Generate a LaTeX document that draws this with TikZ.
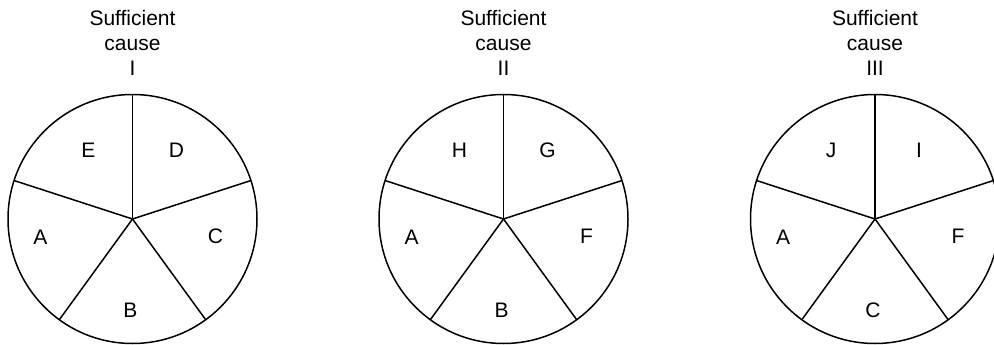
\documentclass[tikz,border=0pt]{standalone}
\usepackage{fontspec}
\setmainfont{Liberation Sans}
\usetikzlibrary{calc}
\begin{document}
\begin{tikzpicture}[x=1pt,y=-1pt,
  rim/.style={draw=black,line width=1.5pt},
  spoke/.style={draw=black,line width=1.5pt},
  lbl/.style={inner sep=0pt,font=\fontsize{21}{25}\selectfont},
  ttl/.style={inner sep=0pt,anchor=base,font=\fontsize{21}{25}\selectfont}]
\clip (0,0) rectangle (994,345);
\fill[white] (0,0) rectangle (994,345);
\foreach \cx/\num/\e/\d/\a/\c/\b [count=\k] in
  {132.5/I/E/D/A/C/B, 503.5/II/H/G/A/F/B, 875/III/J/I/A/F/C}{
  \coordinate (c\k) at (\cx,219);
  \node[ttl] (s\k) at (\cx,26) {Sufficient};
  \node[ttl] (w\k) at (\cx,50.5) {cause};
  \node[ttl] (n\k) at (\cx,76) {\num};
  \draw[rim] (c\k) circle[radius=124.5];
  \foreach \ang [count=\j] in {-90,-18,54,126,-162}{
    \coordinate (p\k-\j) at ($(c\k)+(\ang:124.5)$);
    \draw[spoke] (c\k) -- (p\k-\j);
  }
  \node[lbl] (le\k) at ($(c\k)+(-44,-69)$) {\e};
  \node[lbl] (ld\k) at ($(c\k)+(44,-69)$) {\d};
  \node[lbl] (la\k) at ($(c\k)+(-92,18)$) {\a};
  \node[lbl] (lc\k) at ($(c\k)+(83,17)$) {\c};
  \node[lbl] (lb\k) at ($(c\k)+(-2,91)$) {\b};
}
\end{tikzpicture}
\end{document}
